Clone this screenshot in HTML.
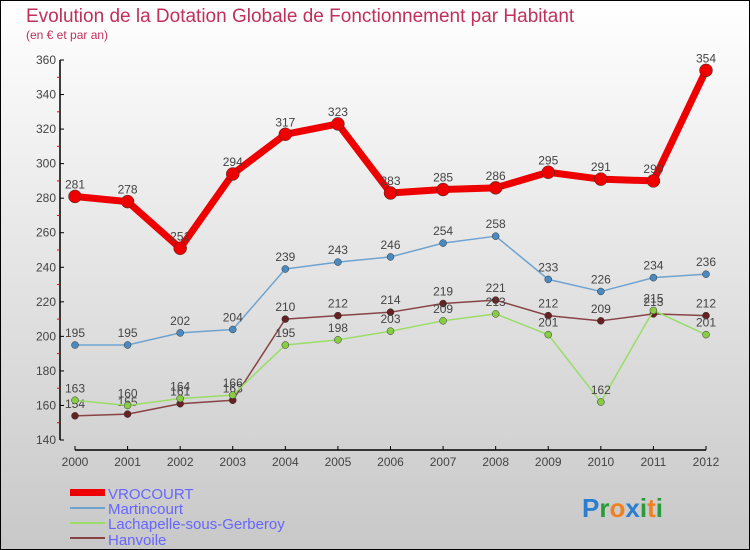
<!DOCTYPE html>
<html><head><meta charset="utf-8"><style>
body{margin:0;}
svg{display:block;font-family:"Liberation Sans",sans-serif;}
</style></head><body>
<svg width="750" height="550" id="c">
<defs><linearGradient id="bg" x1="0" y1="0" x2="0" y2="1"><stop offset="0" stop-color="#ffffff"/><stop offset="1" stop-color="#c8c8c8"/></linearGradient></defs>
<rect x="0.5" y="0.5" width="749" height="549" fill="url(#bg)" stroke="#000"/>
<text x="26" y="22" font-size="19" fill="#c0305a">Evolution de la Dotation Globale de Fonctionnement par Habitant</text>
<text x="26" y="39" font-size="12" fill="#c0305a">(en € et par an)</text>
<g id="axes"></g><g id="series"></g>
<g>
<rect x="70" y="489" width="35" height="7" fill="#e00"/>
<text x="108" y="499" font-size="15" fill="#6666ff">VROCOURT</text>
<line x1="70" y1="508" x2="105" y2="508" stroke="#6fa3cf" stroke-width="2"/>
<text x="108" y="514" font-size="15" fill="#6666ff">Martincourt</text>
<line x1="70" y1="523" x2="105" y2="523" stroke="#99dd66" stroke-width="2"/>
<text x="108" y="529" font-size="15" fill="#6666ff">Lachapelle-sous-Gerberoy</text>
<line x1="70" y1="538" x2="105" y2="538" stroke="#884444" stroke-width="2"/>
<text x="108" y="545" font-size="15" fill="#6666ff">Hanvoile</text>
</g>
<text x="582" y="517" font-size="26" font-weight="bold"><tspan fill="#2a7fd0">P</tspan><tspan fill="#2a9a3a">r</tspan><tspan fill="#f08020">o</tspan><tspan fill="#2a7fd0">x</tspan><tspan fill="#2a9a3a">i</tspan><tspan fill="#f08020">t</tspan><tspan fill="#2a9a3a">i</tspan></text>
</svg>
<script>
const years=["2000","2001","2002","2003","2004","2005","2006","2007","2008","2009","2010","2011","2012"];
const yTicks=[140,160,180,200,220,240,260,280,300,320,340,360];
const vrocourt=[281,278,251,294,317,323,283,285,286,295,291,290,354];
const martincourt=[195,195,202,204,239,243,246,254,258,233,226,234,236];
const lachapelle=[163,160,164,166,195,198,203,209,213,201,162,215,201];
const hanvoile=[154,155,161,163,210,212,214,219,221,212,209,213,212];
const NS="http://www.w3.org/2000/svg";
function X(i){return 75+i*(706-75)/(years.length-1);}
function Y(v){return 440-(v-140)*(380/220);}
function mk(t,a,p){const e=document.createElementNS(NS,t);for(const k in a)e.setAttribute(k,a[k]);p.appendChild(e);return e;}
const ax=document.getElementById('axes');
let e=mk('line',{x1:60,y1:Y(360),x2:60,y2:Y(140),stroke:'#000','stroke-width':1.5},ax);

e=mk('line',{x1:X(0),y1:450,x2:X(12),y2:450,stroke:'#000','stroke-width':1.5},ax);

yTicks.forEach((v,i)=>{
 mk('line',{x1:60,y1:Y(v),x2:64,y2:Y(v),stroke:'#000'},ax);
 if(i<yTicks.length-1)mk('line',{x1:57,y1:Y(v+10),x2:60,y2:Y(v+10),stroke:'#e00'},ax);
 const t=mk('text',{x:56,y:Y(v)+4,'text-anchor':'end','font-size':12,fill:'#444'},ax);t.textContent=v;
 
});
years.forEach((y,i)=>{
 mk('line',{x1:X(i),y1:446,x2:X(i),y2:450,stroke:'#000'},ax);
 const t=mk('text',{x:X(i),y:466,'text-anchor':'middle','font-size':12,fill:'#444'},ax);t.textContent=y;
 
});
const sg=document.getElementById('series');
function draw(data,name,color,w,r,dot){
 const g=mk('g',{},sg);
 
 mk('polyline',{points:data.map((v,i)=>X(i)+','+Y(v)).join(' '),fill:'none',stroke:color,'stroke-width':w,'stroke-linejoin':'round'},g);
 data.forEach((v,i)=>{
  const c=mk('circle',{cx:X(i),cy:Y(v),r:r,fill:dot,stroke:'#333','stroke-width':0.5},g);
  
  const t=mk('text',{x:X(i),y:Y(v)-8,'text-anchor':'middle','font-size':12,fill:'#444'},g);t.textContent=v;
  
 });
}
draw(hanvoile,'hanvoile','#884444',1.5,3.5,'#662222');
draw(lachapelle,'lachapelle','#99dd66',1.5,3.5,'#88cc44');
draw(martincourt,'martincourt','#6fa3cf',1.5,3.5,'#4a8ac0');
draw(vrocourt,'vrocourt','#ee0000',7,6.5,'#ee0000');
</script>
</body></html>
